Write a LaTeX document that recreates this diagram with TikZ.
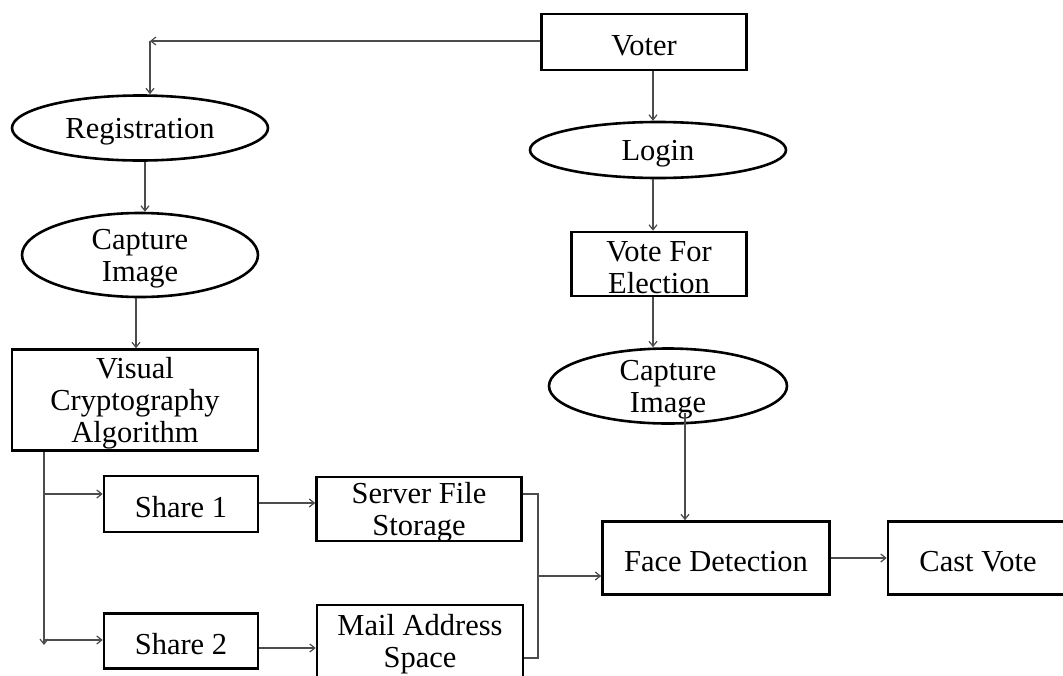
\documentclass[tikz,border=0pt]{standalone}
\usepackage{fontspec}
\setmainfont{Liberation Serif}
\usetikzlibrary{shapes.geometric,arrows.meta}
\begin{document}
\begin{tikzpicture}[x=1pt,y=-1pt,
  every node/.style={inner sep=0pt},
  lbl/.style={font=\fontsize{30.5}{32}\selectfont, align=center, inner sep=0pt, yshift=-3.5pt},
  txt/.style={label={[lbl]center:{#1}}},
  box/.style={draw, line width=2.6pt, rectangle},
  oval/.style={draw, line width=2.6pt, ellipse},
  conn/.style={draw=black!70, line width=1.2pt},
  arr/.style={conn, -{Straight Barb[length=5pt,width=8pt]}}]
\useasboundingbox (0,0) rectangle (1063,675);
\node[box, minimum width=205pt, minimum height=56pt, txt={Voter}] (voter) at (644,42) {};
\node[oval, minimum width=256pt, minimum height=65pt, txt={Registration}] (reg) at (140,128) {};
\node[oval, minimum width=256pt, minimum height=56pt, txt={Login}] (login) at (658,150) {};
\node[oval, minimum width=236pt, minimum height=84pt, txt={Capture\\Image}] (cap1) at (140,255) {};
\node[box, minimum width=175pt, minimum height=64pt, txt={Vote For\\Election}] (vfe) at (659,264) {};
\node[box, minimum width=246pt, minimum height=101pt, txt={Visual\\Cryptography\\Algorithm}] (vca) at (135,400) {};
\node[oval, minimum width=238pt, minimum height=75pt, txt={Capture\\Image}] (cap2) at (668,386) {};
\node[box, minimum width=154pt, minimum height=56pt, txt={Share 1}] (sh1) at (181,504) {};
\node[box, minimum width=154pt, minimum height=55pt, txt={Share 2}] (sh2) at (181,641) {};
\node[box, minimum width=205pt, minimum height=64pt, txt={Server File\\Storage}] (sfs) at (419,509) {};
\node[box, minimum width=206pt, minimum height=72pt, txt={Mail Address\\Space}] (mas) at (420,641) {};
\node[box, minimum width=227pt, minimum height=73pt, txt={Face Detection}] (fd) at (716,558) {};
\node[box, minimum width=180pt, minimum height=73pt, txt={Cast Vote}] (cv) at (978,558) {};
\coordinate (c1) at (150,41);
\coordinate (c2) at (685,413);
\coordinate (b1) at (44,494);
\coordinate (b2) at (44,640);
\coordinate (br) at (538,576);
% connectors
\draw[arr] (voter.west |- c1) -- (c1);
\draw[arr] (c1) -- (c1 |- reg.north);
\draw[arr] (653,0 |- voter.south) -- (653,0 |- login.north);
\draw[arr] (653,0 |- login.south) -- (653,0 |- vfe.north);
\draw[arr] (653,0 |- vfe.south) -- (653,0 |- cap2.north);
\draw[arr] (145,0 |- reg.south) -- (145,0 |- cap1.north);
\draw[arr] (136,0 |- cap1.south) -- (136,0 |- vca.north);
\draw[arr] (44,0 |- vca.south) -- (44,645);
\draw[arr] (b1) -- (b1 -| sh1.west);
\draw[arr] (b2) -- (b2 -| sh2.west);
\draw[arr] (sh1.east |- 0,503) -- (sfs.west |- 0,503);
\draw[arr] (sh2.east |- 0,648) -- (mas.west |- 0,648);
\draw[conn] (sfs.east |- 0,494) -- (538,494) -- (538,658) -- (mas.east |- 0,658);
\draw[arr] (br) -- (br -| fd.west);
\draw[arr] (c2) -- (c2 |- fd.north);
\draw[arr] (fd.east) -- (cv.west);
\end{tikzpicture}
\end{document}
